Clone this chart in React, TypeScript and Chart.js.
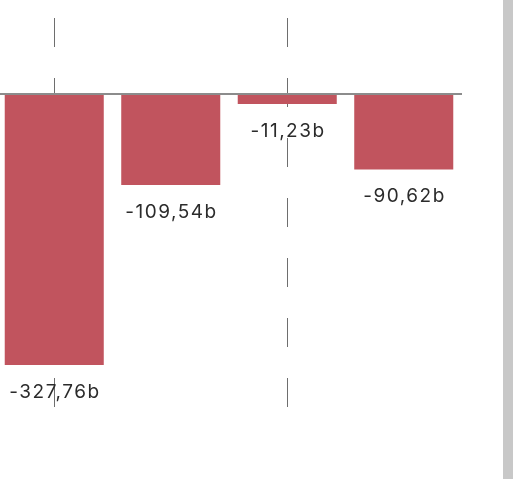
import React, { useEffect, useRef } from "react";
import { Chart, registerables } from "chart.js";

Chart.register(...registerables);

const categories = ["A", "B", "C", "D"];
const values = [-327.76, -109.54, -11.23, -90.62];
const labels = ["-327,76b", "-109,54b", "-11,23b", "-90,62b"];

const barColor = "#c1545e";

const labelPlugin = {
  id: "barLabels",
  afterDatasetsDraw(chart: any) {
    const ctx = chart.ctx;
    const meta = chart.getDatasetMeta(0);
    ctx.save();
    ctx.fillStyle = "#2b2b2b";
    ctx.font = "19px Inter";
    (ctx as any).letterSpacing = "1.5px";
    ctx.textAlign = "center";
    ctx.textBaseline = "middle";
    meta.data.forEach((bar: any, i: number) => {
      ctx.fillText(labels[i], bar.x + 0.75, bar.y + 27);
    });
    ctx.restore();
  },
};

const zeroLinePlugin = {
  id: "zeroLine",
  afterDatasetsDraw(chart: any) {
    const ctx = chart.ctx;
    const y0 = Math.round(chart.scales.y.getPixelForValue(0));
    const area = chart.chartArea;
    ctx.save();
    ctx.fillStyle = "#8c8c8c";
    ctx.fillRect(area.left, y0 - 2, area.right - area.left, 2);
    ctx.restore();
  },
};

export default function App() {
  const ref = useRef<HTMLCanvasElement | null>(null);
  useEffect(() => {
    if (!ref.current) return;
    const chart = new Chart(ref.current, {
      type: "bar",
      data: {
        labels: categories,
        datasets: [
          {
            data: values,
            backgroundColor: barColor,
            barPercentage: 0.85,
            categoryPercentage: 1,
          },
        ],
      },
      options: {
        responsive: false,
        animation: false,
        layout: { padding: 0 },
        plugins: { legend: { display: false }, tooltip: { enabled: false } },
        scales: {
          x: {
            offset: true,
            ticks: { display: false },
            border: { display: false, dash: [29, 31] },
            grid: {
              offset: false,
              drawTicks: false,
              lineWidth: 1,
              color: (c: any) => (c.index % 2 === 0 ? "#6e6e6e" : "rgba(0,0,0,0)"),
            },
          },
          y: {
            min: -378.6,
            max: 92.9,
            ticks: { display: false },
            border: { display: false },
            grid: { display: false, drawTicks: false },
          },
        },
      },
      plugins: [labelPlugin, zeroLinePlugin],
    } as any);
    return () => chart.destroy();
  }, []);
  return (
    <div style={{ position: "fixed", left: 0, top: 0, width: 522, height: 479, background: "#fff", overflow: "hidden" }}>
      <canvas
        ref={ref}
        width={466}
        height={389}
        style={{ position: "absolute", left: -4, top: 18, width: 466, height: 389 }}
      />
      <div style={{ position: "absolute", left: 503, top: 0, width: 10, height: 479, background: "#c8c8c8" }} />
    </div>
  );
}
